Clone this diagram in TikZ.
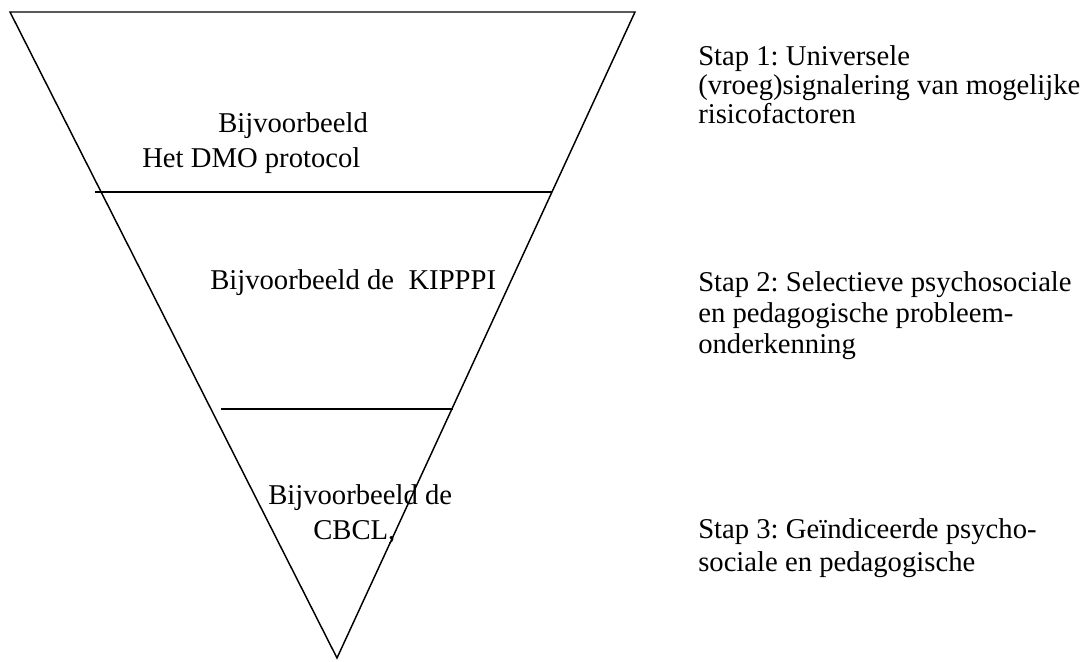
\documentclass[tikz,border=0pt]{standalone}
\usepackage{fontspec}
\setmainfont{Liberation Serif}
\frenchspacing
\begin{document}
\begin{tikzpicture}[x=0.75pt,y=-0.75pt,
  funnel/.style={line width=1.1pt, line join=miter},
  fieldtext/.style={inner sep=0pt, anchor=base west, font=\fontsize{21.5}{21.75}\selectfont},
  steptext/.style={fieldtext, align=left}]
  \useasboundingbox (0,0) rectangle (1091,661);

  % funnel
  \coordinate (tl) at (10,12);
  \coordinate (tr) at (635,12);
  \coordinate (apex) at (337,658);
  \draw[funnel] (tl) -- (tr) -- (apex) -- cycle;
  \coordinate (s1l) at (95,192);
  \coordinate (s1r) at (552,192);
  \coordinate (s2l) at (221,409);
  \coordinate (s2r) at (453,409);
  \draw[funnel] (s1l) -- (s1r);
  \draw[funnel] (s2l) -- (s2r);

  % examples inside the funnel
  \node[fieldtext] (ex1a) at (218,132) {Bijvoorbeeld};
  \node[fieldtext] (ex1b) at (142,167) {Het DMO protocol};
  \node[fieldtext] (ex2) at (210,289) {Bijvoorbeeld de\ \ KIPPPI};
  \node[fieldtext] (ex3a) at (268,504) {Bijvoorbeeld de};
  \node[fieldtext] (ex3b) at (313,539) {CBCL,};

  % steps (placed on the baseline of their last line)
  \node[steptext] (stap1) at (698,123) {Stap 1: Universele\\(vroeg)signalering van mogelijke\\risicofactoren};
  \node[steptext, font=\fontsize{21.5}{23.25}\selectfont] (stap2) at (698,353) {Stap 2: Selectieve psychosociale\\en pedagogische probleem-\\onderkenning};
  \node[steptext, font=\fontsize{21.5}{24.75}\selectfont] (stap3) at (698,571) {Stap 3: Geïndiceerde psycho-\\sociale en pedagogische};
\end{tikzpicture}
\end{document}
